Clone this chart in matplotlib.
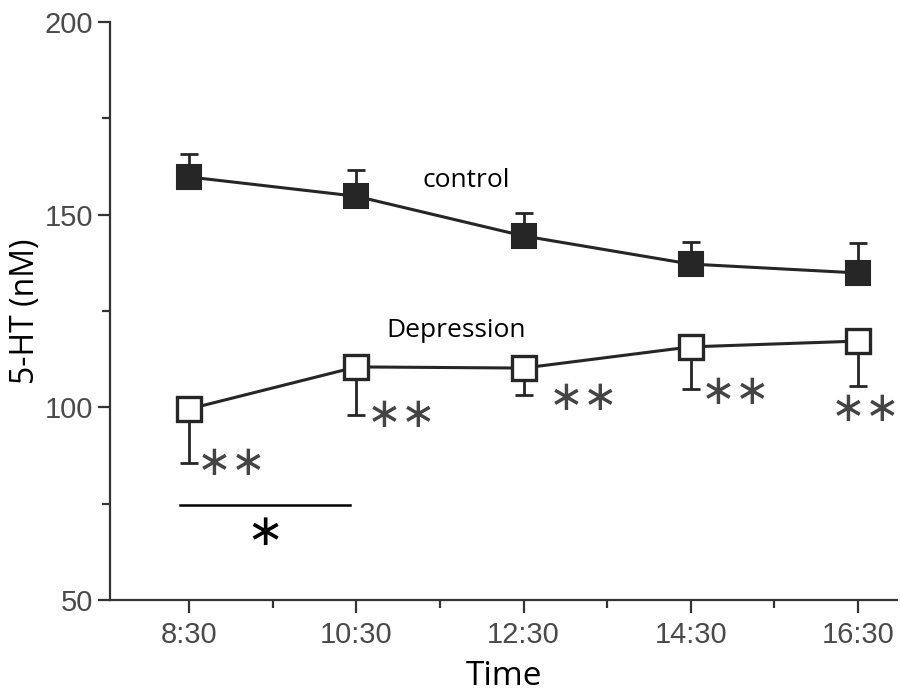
"""
5-HT (nM) over the day, control vs depression group.
Recreated from a scanned figure; values read off the picture.
"""
import matplotlib
matplotlib.use("Agg")
import matplotlib.pyplot as plt
from matplotlib.ticker import MultipleLocator

# ---- Data ----
times = ["8:30", "10:30", "12:30", "14:30", "16:30"]
control_mean = [159.8, 154.8, 144.5, 137.2, 134.9]
control_err = [5.9, 6.8, 5.9, 5.8, 7.7]
depression_mean = [99.6, 110.5, 110.2, 115.7, 117.2]
depression_err = [14.1, 12.5, 7.0, 11.0, 11.7]

# significance marks: (x, y) of each "**"
star_x = [0.25, 1.27, 2.36, 3.27, 4.05]
star_y = [85.5, 98.0, 102.4, 104.1, 99.7]

TICK_FONT = ["Liberation Sans", "DejaVu Sans"]
TEXT_FONT = ["Open Sans", "DejaVu Sans"]
INK = "#262626"


def main():
    x = list(range(len(times)))

    fig = plt.figure(figsize=(9.0, 6.92), dpi=100)
    ax = fig.add_axes([0.122, 0.133, 0.875, 0.835])

    # control: filled squares, upper error only
    ax.plot(x, control_mean, color=INK, lw=2.2, zorder=2)
    ax.errorbar(x, control_mean, yerr=[[0] * 5, control_err], fmt="none",
                ecolor=INK, elinewidth=2.0, capsize=6.5, capthick=2.0, zorder=1)
    ax.plot(x, control_mean, ls="none", marker="s", ms=17, mfc=INK,
            mec=INK, mew=1.5, zorder=3)

    # depression: open squares, lower error only
    ax.plot(x, depression_mean, color=INK, lw=2.2, zorder=2)
    ax.errorbar(x, depression_mean, yerr=[depression_err, [0] * 5], fmt="none",
                ecolor=INK, elinewidth=2.0, capsize=6.5, capthick=2.0, zorder=1)
    ax.plot(x, depression_mean, ls="none", marker="s", ms=17, mfc="white",
            mec=INK, mew=2.4, zorder=3)

    for sx, sy in zip(star_x, star_y):
        ax.text(sx, sy, "\u2217\u2217", ha="center", va="center",
                fontsize=30, color="#444444", family="DejaVu Sans")

    # 8:30 vs 10:30 bracket
    ax.plot([-0.057, 0.961], [74.6, 74.6], color="black", lw=1.8)
    ax.text(0.452, 67.4, "\u2217", ha="center", va="center", fontsize=32,
            color="black", family="DejaVu Sans")

    ax.text(1.656, 157.2, "control", ha="center", va="baseline",
            fontsize=19, family=TEXT_FONT, color="black")
    ax.text(1.596, 118.2, "Depression", ha="center", va="baseline",
            fontsize=19, family=TEXT_FONT, color="black")

    # ---- Axes ----
    ax.set_xlim(-0.476, 4.237)
    ax.set_ylim(50, 200)
    ax.set_xticks(x)
    ax.set_xticklabels(times)
    ax.xaxis.set_minor_locator(MultipleLocator(0.5))
    ax.set_yticks([50, 100, 150, 200])
    ax.yaxis.set_minor_locator(MultipleLocator(25))

    for side in ("top", "right"):
        ax.spines[side].set_visible(False)
    for side in ("left", "bottom"):
        ax.spines[side].set_color("#333333")
        ax.spines[side].set_linewidth(1.6)

    ax.tick_params(which="major", length=9, width=1.6, color="#333333",
                   labelsize=21, labelcolor="#4a4a4a", pad=6)
    ax.tick_params(axis="y", which="major", pad=3)
    ax.tick_params(which="minor", length=6, width=1.6, color="#333333")
    for lab in ax.get_xticklabels() + ax.get_yticklabels():
        lab.set_family(TICK_FONT)

    ax.set_xlabel("Time", fontsize=24, family=TEXT_FONT, labelpad=8)
    ax.set_ylabel("5-HT (nM)", fontsize=23, family=TEXT_FONT, labelpad=2)

    fig.savefig("out.png", dpi=100)
    plt.close(fig)


if __name__ == "__main__":
    main()
